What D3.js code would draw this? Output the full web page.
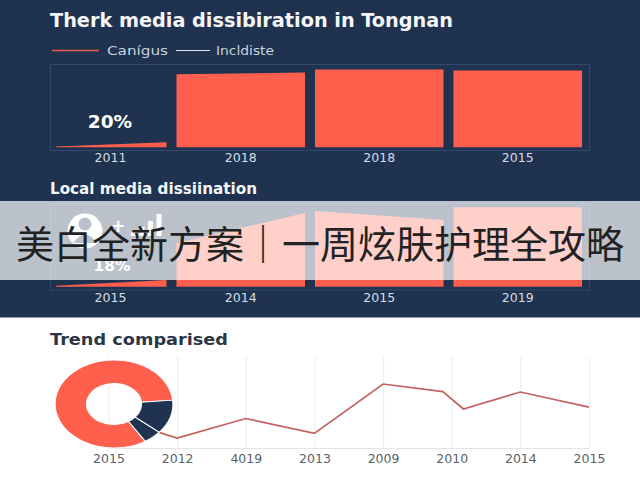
<!DOCTYPE html>
<html>
<head>
<meta charset="utf-8">
<style>
body { margin: 0; background: #fff; }
text { font-family: "DejaVu Sans", sans-serif; }
</style>
<script src="https://cdn.jsdelivr.net/npm/d3@7"></script>
</head>
<body>
<svg width="640" height="480"></svg>
<script>
// top panel
var topYears = ["2011", "2018", "2018", "2015"];
var topStart = [0, 87.6, 93.4, 92.2];
var topEnd = [6, 89.8, 93.4, 92.2];
// middle panel
var midYears = ["2015", "2014", "2015", "2019"];
var midStart = [0, 52, 90.5, 95];
var midEnd = [8, 88, 79.7, 95];
// trend line, x is position along the ticks
var trendYears = ["2015", "2012", "4019", "2013", "2009", "2010", "2014", "2015"];
var trendPos = [0.7, 1, 2, 3, 4, 4.87, 5.17, 6, 7];
var trendVal = [18, 11, 32.4, 16, 70.3, 61.9, 42.9, 61.5, 45];
var donutVal = [82.5, 12.5, 5];

var red = "#ff5f4d", navy = "#1f3350", frameCol = "#324a6c";

var svg = d3.select("svg");

svg.append("rect").attr("width", 640).attr("height", 480).attr("fill", "#fff");
svg.append("rect").attr("width", 640).attr("height", 317.5).attr("fill", navy);

svg.append("defs").append("clipPath").attr("id", "barClip")
    .append("rect").attr("x", 56).attr("y", 0).attr("width", 534).attr("height", 320);

function title(txt, x, y, size, col, len) {
    svg.append("text").attr("x", x).attr("y", y)
        .attr("font-size", size).attr("font-weight", 700).attr("fill", col)
        .attr("textLength", len).attr("lengthAdjust", "spacingAndGlyphs").text(txt);
}

title("Therk media dissibiration in Tongnan", 50, 26.5, 19, "#f4f6f8", 403);
title("Local media dissiination", 50, 194, 15, "#f4f6f8", 207);
title("Trend comparised", 50, 345, 16.5, "#2c3646", 178);

function legendText(txt, x, len) {
    svg.append("text").attr("x", x).attr("y", 55).attr("font-size", 12.5).attr("fill", "#c8d2dc")
        .attr("textLength", len).attr("lengthAdjust", "spacingAndGlyphs").text(txt);
}

// legend
svg.append("line").attr("x1", 52).attr("x2", 99).attr("y1", 50.5).attr("y2", 50.5)
    .attr("stroke", "#e8584c").attr("stroke-width", 1.6);
legendText("Canígus", 107, 61);
svg.append("line").attr("x1", 176).attr("x2", 210).attr("y1", 50.5).attr("y2", 50.5)
    .attr("stroke", "#dfe7ee").attr("stroke-width", 1.2);
legendText("Incldiste", 216, 58);

var xBand = d3.scaleBand().domain(d3.range(4)).range([33, 587])
    .paddingInner(0.072).paddingOuter(0.036);

function barPanel(years, start, end, frameTop, baseline, frameBottom) {
    var y = d3.scaleLinear().domain([0, 100]).range([baseline, frameTop]);
    var g = svg.append("g");

    g.append("rect").attr("x", 50.5).attr("y", frameTop + 0.5)
        .attr("width", 539).attr("height", frameBottom - frameTop)
        .attr("fill", "none").attr("stroke", frameCol);

    var area = d3.area()
        .x(function (d) { return d.x; })
        .y0(baseline)
        .y1(function (d) { return y(d.v); });

    g.append("g").attr("clip-path", "url(#barClip)")
        .selectAll("path").data(d3.range(4)).enter().append("path")
        .attr("fill", red)
        .attr("d", function (i) {
            return area([
                { x: xBand(i), v: start[i] },
                { x: xBand(i) + xBand.bandwidth(), v: end[i] }
            ]);
        });

    var axis = g.append("g").attr("transform", "translate(0," + (frameBottom + 0.5) + ")")
        .call(d3.axisBottom(xBand).tickSize(0).tickPadding(3)
            .tickFormat(function (i) { return years[i]; }));
    axis.select(".domain").remove();
    axis.selectAll("text").attr("font-size", 12.5).attr("fill", "#d5dde5")
        .style("font-family", "'DejaVu Sans', sans-serif");
    // first bar is cut off at the frame, so its label sits further right
    axis.selectAll(".tick").filter(function (i) { return i === 0; })
        .attr("transform", "translate(110.5,0)");
}

barPanel(topYears, topStart, topEnd, 64, 147.3, 150);
barPanel(midYears, midStart, midEnd, 203, 286.7, 289.5);

svg.append("text").attr("x", 110).attr("y", 128).attr("text-anchor", "middle")
    .attr("font-size", 18.5).attr("font-weight", 700).attr("fill", "#fff").text("20%");
svg.append("text").attr("x", 112).attr("y", 271).attr("text-anchor", "middle")
    .attr("font-size", 15.5).attr("font-weight", 700).attr("fill", "#fff").text("18%");

// icon row under the banner
var icon = svg.append("g");
icon.append("circle").attr("cx", 85).attr("cy", 231).attr("r", 17.5).attr("fill", "#fff");
icon.append("circle").attr("cx", 85).attr("cy", 224).attr("r", 6.5).attr("fill", navy);
icon.append("path").attr("d", "M73,243 Q85,226 97,243 Z").attr("fill", navy);
icon.append("text").attr("x", 118).attr("y", 232).attr("text-anchor", "middle")
    .attr("font-size", 17).attr("font-weight", 700).attr("fill", "#fff").text("+");
icon.selectAll("rect").data([4, 9, 15, 22]).enter().append("rect")
    .attr("x", function (d, i) { return 131 + i * 8.5; })
    .attr("y", function (d) { return 236 - d; })
    .attr("width", 5).attr("height", function (d) { return d; }).attr("fill", "#fff");

// trend chart
var xTrend = d3.scaleLinear().domain([0, 7]).range([108.5, 589]);
var yTrend = d3.scaleLinear().domain([0, 100]).range([448, 357]);

var trendAxis = svg.append("g").attr("transform", "translate(0,448)")
    .call(d3.axisBottom(xTrend).tickValues(d3.range(8)).tickSizeOuter(0)
        .tickSizeInner(-91).tickPadding(6)
        .tickFormat(function (i) { return trendYears[i]; }));
trendAxis.select(".domain").attr("stroke", "#e2e4e8");
trendAxis.selectAll("line").attr("stroke", "#eeeff2").attr("stroke-width", 1.2);
trendAxis.selectAll("text").attr("font-size", 12.5).attr("fill", "#5a5f68")
    .style("font-family", "'DejaVu Sans', sans-serif");

var line = d3.line()
    .x(function (d) { return xTrend(d); })
    .y(function (d, i) { return yTrend(trendVal[i]); });

svg.append("path").attr("d", line(trendPos))
    .attr("fill", "none").attr("stroke", "#c4605e").attr("stroke-width", 1.7);

// donut is squashed vertically in the picture
var pie = d3.pie().sort(null)
    .startAngle(148 * Math.PI / 180)
    .endAngle(508 * Math.PI / 180);
var arc = d3.arc().innerRadius(20.5).outerRadius(44);

svg.append("g").attr("transform", "translate(114,404) scale(1.34,1)")
    .selectAll("path").data(pie(donutVal)).enter().append("path")
    .attr("d", arc)
    .attr("fill", function (d, i) { return i === 0 ? red : navy; })
    .attr("stroke", "#fff").attr("stroke-width", 0.9);

// banner over everything
svg.append("rect").attr("y", 201).attr("width", 640).attr("height", 79)
    .attr("fill", "#fff").attr("fill-opacity", 0.7);
svg.append("text").attr("x", 16).attr("y", 258)
    .attr("font-size", 38).attr("fill", "#222")
    .style("font-family", "'Noto Sans CJK SC', sans-serif")
    .text("美白全新方案｜一周炫肤护理全攻略");
</script>
</body>
</html>
